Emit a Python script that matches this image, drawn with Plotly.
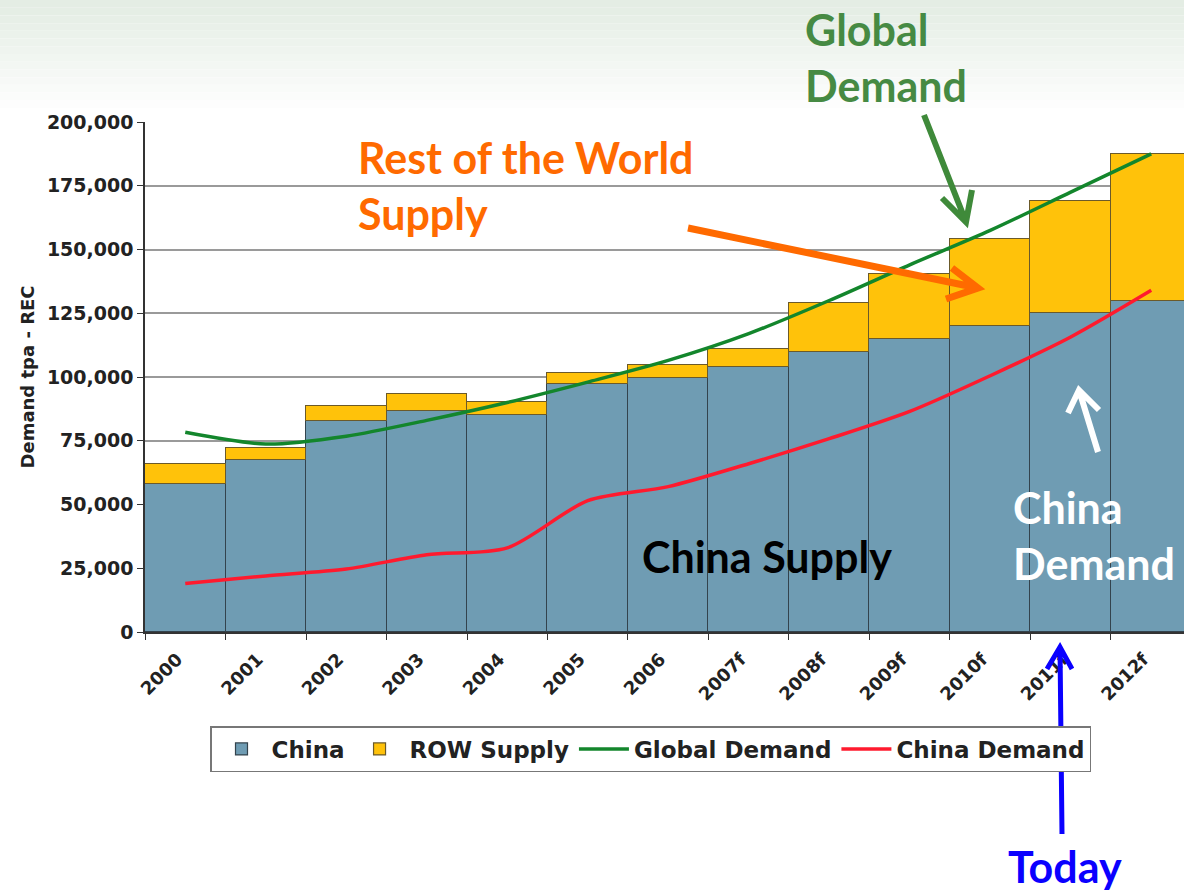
import plotly.graph_objects as go

# values (tpa REC)
years = ["2000", "2001", "2002", "2003", "2004", "2005", "2006",
         "2007f", "2008f", "2009f", "2010f", "2011f", "2012f"]
china_supply = [58000, 67500, 82700, 86500, 85000, 97300, 99600,
                104000, 110000, 115000, 120000, 125000, 130000]
row_supply = [8000, 4800, 6100, 7000, 5300, 4100, 5100,
              7000, 19000, 25500, 34000, 44000, 57500]
global_demand = [78300, 73700, 76800, 83000, 90000, 98000, 106500,
                 117000, 130000, 144000, 157500, 172500, 187500]
china_demand = [19000, 22000, 24700, 30300, 33000, 51500, 57000,
                66000, 75800, 86500, 100500, 115700, 134000]

W, H = 1184, 893
L, R, T, B = 145, 0, 122, 893 - 632


def px(x):
    return (x - L) / (W - L - R)


def py(y):
    return (H - B - y) / (H - T - B)


fig = go.Figure()
fig.add_trace(go.Bar(x=years, y=china_supply, name="China",
                     marker=dict(color="#6F9CB3", line=dict(color="#33434d", width=1.2))))
fig.add_trace(go.Bar(x=years, y=row_supply, name="ROW Supply",
                     marker=dict(color="#FFC20A", line=dict(color="#6b5a2a", width=1.2))))
fig.add_trace(go.Scatter(x=years, y=global_demand, name="Global Demand", mode="lines",
                         line=dict(color="#13862c", width=3.5, shape="spline", smoothing=0.8)))
fig.add_trace(go.Scatter(x=years, y=china_demand, name="China Demand", mode="lines",
                         line=dict(color="#FF1A2E", width=3.5, shape="spline", smoothing=0.8)))

# light green gradient band at the top of the slide
shapes = []
n = 14
for i in range(n):
    t = i / n
    r_ = int(228 + (255 - 228) * t)
    g = int(237 + (255 - 237) * t)
    b_ = int(228 + (255 - 228) * t)
    shapes.append(dict(type="rect", xref="paper", yref="paper", layer="below",
                       x0=px(0), x1=px(W), y0=py(i * 108 / n), y1=py((i + 1) * 108 / n),
                       fillcolor=f"rgb({r_},{g},{b_})", line=dict(width=0)))


def arrow(x0, y0, x1, y1, a1, a2, color, width):
    path = (f"M {px(x0)} {py(y0)} L {px(x1)} {py(y1)} "
            f"M {px(a1[0])} {py(a1[1])} L {px(x1)} {py(y1)} L {px(a2[0])} {py(a2[1])}")
    shapes.append(dict(type="path", xref="paper", yref="paper", path=path,
                       line=dict(color=color, width=width)))


arrow(924, 115, 966, 222, (942, 198), (972, 190), "#3f8a3a", 6)
arrow(688, 228, 978, 288, (952, 268), (946, 299), "#FF6A00", 7)
arrow(1098, 452, 1079, 390, (1068, 413), (1099, 410), "white", 6)
arrow(1062, 834, 1060, 647, (1047, 669), (1072, 669), "#0A00FF", 5)

big = dict(family="Lato", size=43)
ann = [
    dict(text="<b>Global<br>Demand</b>", x=px(803), y=py(57), xanchor="left", yanchor="middle",
         align="left", font=dict(color="#468A43", **big)),
    dict(text="<b>Rest of the World<br>Supply</b>", x=px(356), y=py(185), xanchor="left",
         yanchor="middle", align="left", font=dict(color="#FF6A00", **big)),
    dict(text="<b>China Supply</b>", x=px(640), y=py(556), xanchor="left", yanchor="middle",
         font=dict(color="black", **big)),
    dict(text="<b>China<br>Demand</b>", x=px(1011), y=py(535), xanchor="left", yanchor="middle",
         align="left", font=dict(color="white", **big)),
    dict(text="<b>Today</b>", x=px(1006), y=py(866), xanchor="left", yanchor="middle",
         font=dict(color="#0A00FF", **big)),
]
for a in ann:
    a.update(xref="paper", yref="paper", showarrow=False)

fig.update_layout(
    width=W, height=H, autosize=False,
    margin=dict(l=L, r=R, t=T, b=B),
    paper_bgcolor="white", plot_bgcolor="white",
    barmode="stack", bargap=0,
    font=dict(family="DejaVu Sans", color="#222"),
    shapes=shapes, annotations=ann,
    showlegend=True,
    legend=dict(orientation="h", traceorder="normal", x=px(210), y=py(726),
                xanchor="left", yanchor="top", itemwidth=50,
                bordercolor="#777", borderwidth=1.5, bgcolor="white",
                font=dict(family="DejaVu Sans", size=23, color="#222", weight="bold"),
                itemclick=False),
)
fig.update_xaxes(type="category", range=[-0.5, 12.407], tickangle=-45,
                 tickson="boundaries", ticks="outside", ticklen=6, tickcolor="#333",
                 showline=True, linecolor="#333", linewidth=1.5, showgrid=False,
                 ticklabelstandoff=8, ticklabelshift=-8,
                 tickfont=dict(family="DejaVu Sans", size=18, color="#222", weight="bold"))
fig.update_yaxes(range=[0, 200000], dtick=25000, tickformat=",", ticks="outside",
                 ticklen=6, tickcolor="#333", showline=True, linecolor="#333", linewidth=1.5,
                 gridcolor="#9a9a9a", gridwidth=1.5,
                 tickfont=dict(family="DejaVu Sans", size=19, color="#222", weight="bold"),
                 title=dict(text="<b>Demand tpa - REC</b>", standoff=8,
                            font=dict(family="DejaVu Sans", size=18, color="#222")))

# drop the page's default body margin so the figure fills the window exactly
fig.write_html("out.html", config={"displayModeBar": False},
               post_script="document.body.style.margin='0px';")
